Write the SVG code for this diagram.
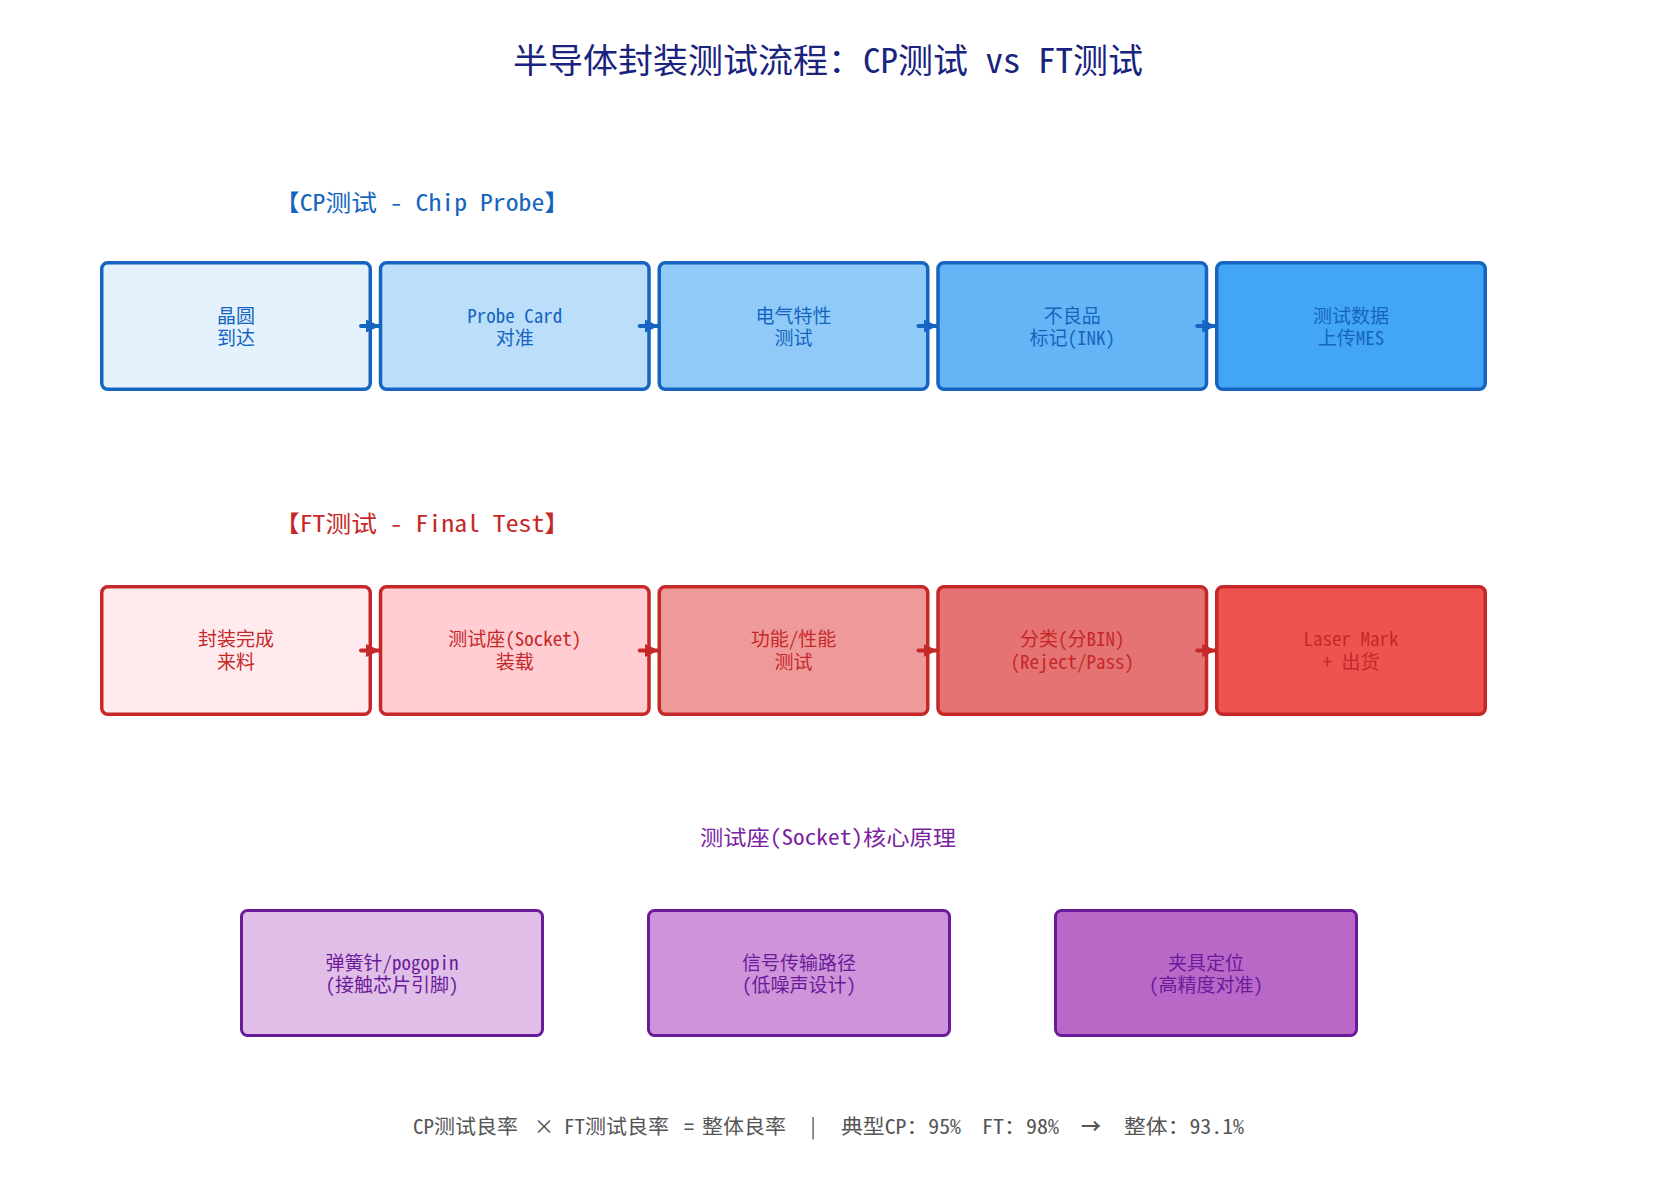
<svg xmlns="http://www.w3.org/2000/svg" width="1657" height="1185" viewBox="0 0 1657 1185">
<defs>
<style>
text{font-family:"Noto Sans Mono CJK SC","Noto Sans CJK SC","Liberation Mono",sans-serif;text-anchor:middle}
.title{font-size:34px;fill:#1a237e}
.hcp{font-size:23px;fill:#1565c0}
.hft{font-size:23px;fill:#c62828}
.hso{font-size:21px;fill:#7b1fa2}
.foot{font-size:20px;fill:#555555;text-anchor:start}
.cp rect{stroke:#1565c0;stroke-width:3.5}
.ft rect{stroke:#c62828;stroke-width:3.5}
.so rect{stroke:#6a1b9a;stroke-width:3}
.cp text{font-size:19px;fill:#1565c0}
.ft text{font-size:19px;fill:#c62828}
.so text{font-size:19px;fill:#6a1b9a}
.acp{stroke:#1565c0;stroke-width:4;stroke-linecap:round;fill:none}
.aft{stroke:#c62828;stroke-width:4;stroke-linecap:round;fill:none}
</style>
<marker id="mcp" viewBox="0 0 14 13" refX="13" refY="6.5" markerWidth="14" markerHeight="13" markerUnits="userSpaceOnUse" orient="auto"><path d="M0,0 L14,6.5 L0,13 z" fill="#1565c0"/></marker>
<marker id="mft" viewBox="0 0 14 13" refX="13" refY="6.5" markerWidth="14" markerHeight="13" markerUnits="userSpaceOnUse" orient="auto"><path d="M0,0 L14,6.5 L0,13 z" fill="#c62828"/></marker>
</defs>
<rect width="1657" height="1185" fill="#ffffff"/>
<text class="title" x="828" y="73" textLength="630" lengthAdjust="spacingAndGlyphs">半导体封装测试流程：CP测试 vs FT测试</text>
<text class="hcp" x="422" y="211" textLength="296" lengthAdjust="spacingAndGlyphs">【CP测试 - Chip Probe】</text>
<text class="hft" x="422" y="532" textLength="296" lengthAdjust="spacingAndGlyphs">【FT测试 - Final Test】</text>
<text class="hso" x="828" y="845" textLength="256" lengthAdjust="spacingAndGlyphs">测试座(Socket)核心原理</text>

<g id="cp1" class="cp"><rect x="101.75" y="262.75" width="268.5" height="126.5" rx="6" fill="#e3f2fd"/><text x="236" y="323">晶圆<tspan x="236" dy="22">到达</tspan></text></g>
<g id="cp2" class="cp"><rect x="380.5" y="262.75" width="268.5" height="126.5" rx="6" fill="#bbdefb"/><text x="514.75" y="323">Probe Card<tspan x="514.75" dy="22">对准</tspan></text></g>
<g id="cp3" class="cp"><rect x="659.25" y="262.75" width="268.5" height="126.5" rx="6" fill="#90caf9"/><text x="793.5" y="323">电气特性<tspan x="793.5" dy="22">测试</tspan></text></g>
<g id="cp4" class="cp"><rect x="938" y="262.75" width="268.5" height="126.5" rx="6" fill="#64b5f6"/><text x="1072.25" y="323">不良品<tspan x="1072.25" dy="22">标记(INK)</tspan></text></g>
<g id="cp5" class="cp"><rect x="1216.75" y="262.75" width="268.5" height="126.5" rx="6" fill="#42a5f5"/><text x="1351" y="323">测试数据<tspan x="1351" dy="22">上传MES</tspan></text></g>

<g id="ft1" class="ft"><rect x="101.75" y="586.75" width="268.5" height="127.5" rx="6" fill="#ffebee"/><text x="236" y="646">封装完成<tspan x="236" dy="22.5">来料</tspan></text></g>
<g id="ft2" class="ft"><rect x="380.5" y="586.75" width="268.5" height="127.5" rx="6" fill="#ffcdd2"/><text x="514.75" y="646">测试座(Socket)<tspan x="514.75" dy="22.5">装载</tspan></text></g>
<g id="ft3" class="ft"><rect x="659.25" y="586.75" width="268.5" height="127.5" rx="6" fill="#ef9a9a"/><text x="793.5" y="646">功能/性能<tspan x="793.5" dy="22.5">测试</tspan></text></g>
<g id="ft4" class="ft"><rect x="938" y="586.75" width="268.5" height="127.5" rx="6" fill="#e57373"/><text x="1072.25" y="646">分类(分BIN)<tspan x="1072.25" dy="22.5">(Reject/Pass)</tspan></text></g>
<g id="ft5" class="ft"><rect x="1216.75" y="586.75" width="268.5" height="127.5" rx="6" fill="#ef5350"/><text x="1351" y="646">Laser Mark<tspan x="1351" dy="22.5">+ 出货</tspan></text></g>

<g id="so1" class="so"><rect x="241.5" y="910.5" width="301" height="125" rx="6" fill="#e1bee7"/><text x="392" y="970">弹簧针/pogopin<tspan x="392" dy="22">(接触芯片引脚)</tspan></text></g>
<g id="so2" class="so"><rect x="648.5" y="910.5" width="301" height="125" rx="6" fill="#ce93d8"/><text x="799" y="970">信号传输路径<tspan x="799" dy="22">(低噪声设计)</tspan></text></g>
<g id="so3" class="so"><rect x="1055.5" y="910.5" width="301" height="125" rx="6" fill="#ba68c8"/><text x="1206" y="970">夹具定位<tspan x="1206" dy="22">(高精度对准)</tspan></text></g>

<g id="connectors">
<line class="acp" x1="361" y1="326" x2="379" y2="326" marker-end="url(#mcp)"/>
<line class="acp" x1="639.75" y1="326" x2="657.75" y2="326" marker-end="url(#mcp)"/>
<line class="acp" x1="918.5" y1="326" x2="936.5" y2="326" marker-end="url(#mcp)"/>
<line class="acp" x1="1197.25" y1="326" x2="1215.25" y2="326" marker-end="url(#mcp)"/>
<line class="aft" x1="361" y1="650.5" x2="379" y2="650.5" marker-end="url(#mft)"/>
<line class="aft" x1="639.75" y1="650.5" x2="657.75" y2="650.5" marker-end="url(#mft)"/>
<line class="aft" x1="918.5" y1="650.5" x2="936.5" y2="650.5" marker-end="url(#mft)"/>
<line class="aft" x1="1197.25" y1="650.5" x2="1215.25" y2="650.5" marker-end="url(#mft)"/>
</g>

<text class="foot" y="1134"><tspan x="413" textLength="105" lengthAdjust="spacingAndGlyphs">CP测试良率</tspan> <tspan x="534">×</tspan> <tspan x="564" textLength="105" lengthAdjust="spacingAndGlyphs">FT测试良率</tspan> <tspan x="684">=</tspan> <tspan x="702" textLength="84" lengthAdjust="spacingAndGlyphs">整体良率</tspan> <tspan x="808">|</tspan> <tspan x="841" textLength="120" lengthAdjust="spacingAndGlyphs">典型CP：95%</tspan> <tspan x="982" textLength="77" lengthAdjust="spacingAndGlyphs">FT：98%</tspan> <tspan x="1081" font-weight="bold">→</tspan> <tspan x="1124" textLength="120" lengthAdjust="spacingAndGlyphs">整体：93.1%</tspan></text>
</svg>
